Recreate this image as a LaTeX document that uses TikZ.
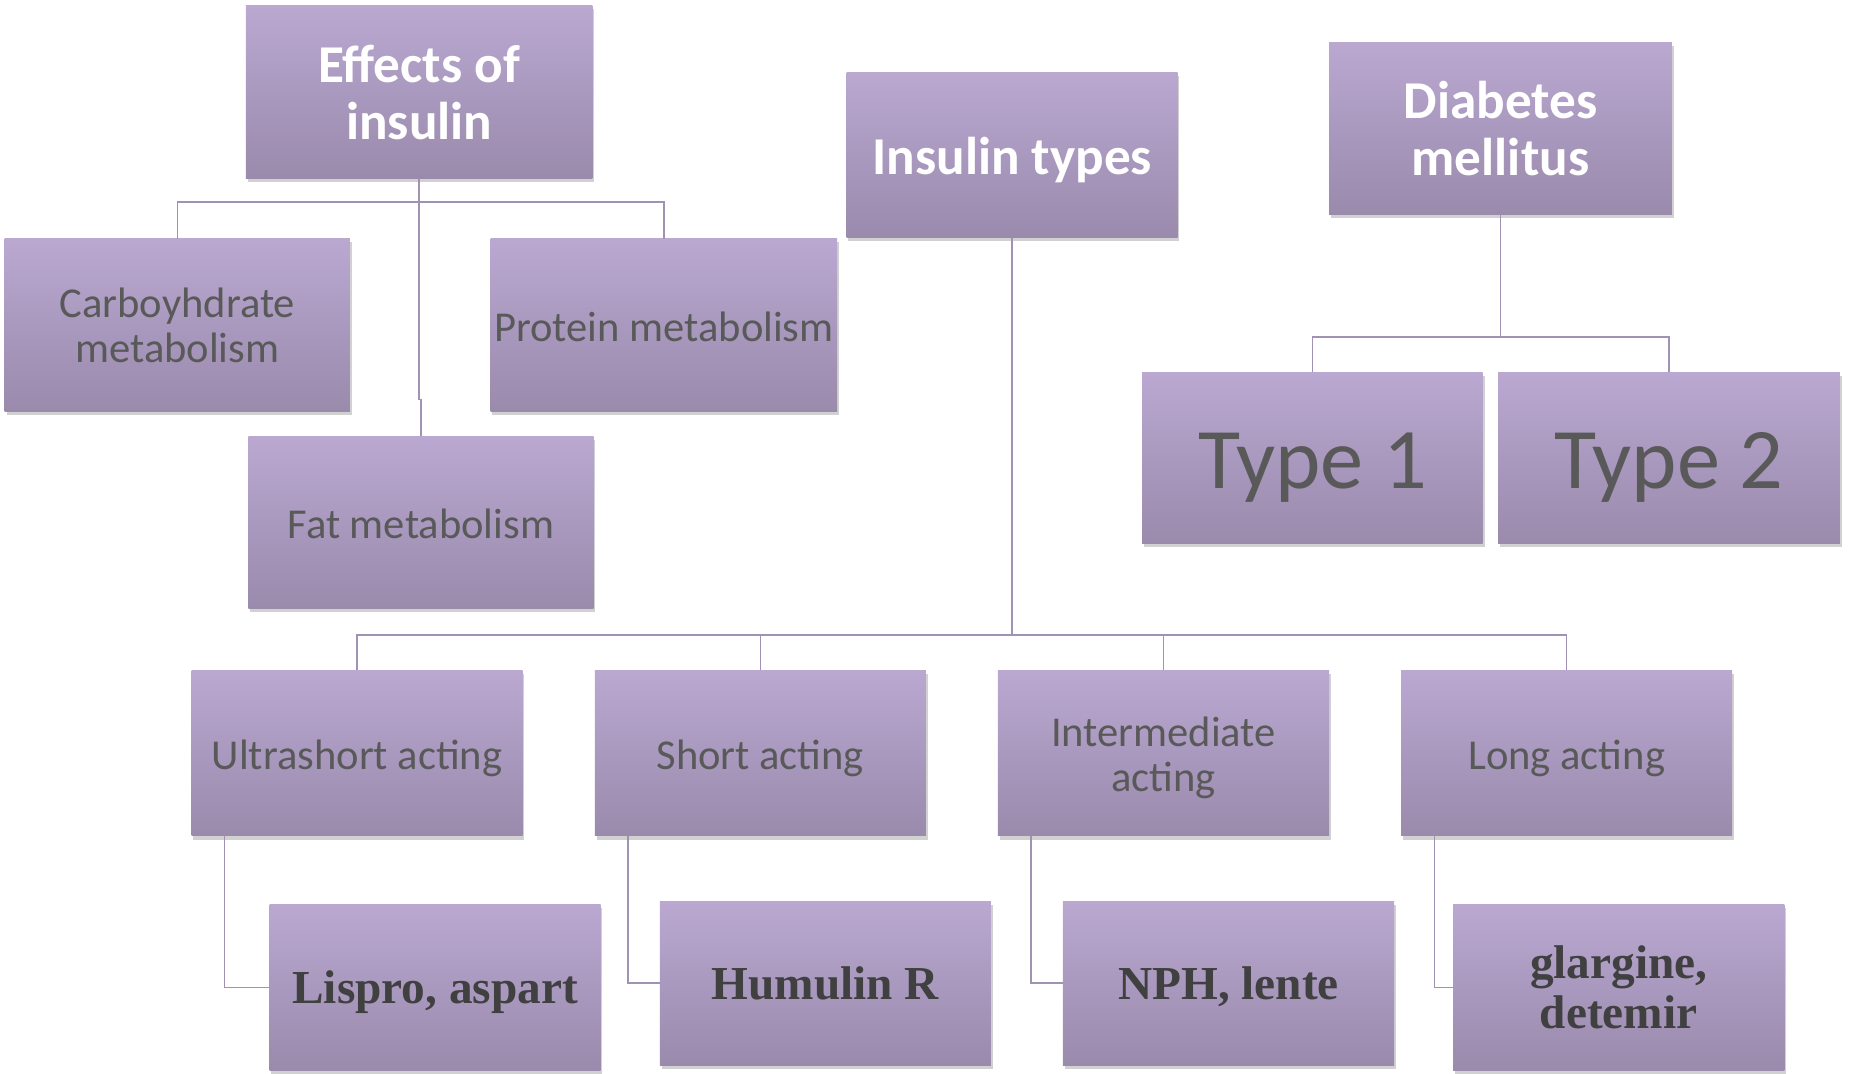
\documentclass[tikz,border=0pt]{standalone}
\usepackage{fontspec}
\setmainfont{Carlito}
\newfontfamily\tnr{Liberation Serif}
\usetikzlibrary{shadows}
\definecolor{boxtop}{HTML}{BAA8D1}
\definecolor{boxbot}{HTML}{9A8AAC}
\definecolor{linec}{HTML}{9F92B3}
\definecolor{midtxt}{HTML}{595959}
\definecolor{bottxt}{HTML}{404040}
\tikzset{
  box/.style={rectangle, inner sep=2pt, align=center, top color=boxtop, bottom color=boxbot,
    drop shadow={shadow xshift=1.5pt, shadow yshift=-3pt, opacity=0.3, fill=black!60}},
  headfont/.style={text=white, font=\fontsize{45}{48}\selectfont\bfseries},
  midfont/.style={text=midtxt, font=\fontsize{36}{38}\selectfont},
  headbox/.style={box, headfont},
  midbox/.style={box, midfont},
  midone/.style={midbox, text height=27pt, text depth=0pt},
  bigbox/.style={box, text=midtxt, font=\fontsize{73}{80}\selectfont, text height=51pt, text depth=0pt},
  drugbox/.style={box, text=bottxt, font=\fontsize{40}{42}\selectfont\tnr\bfseries},
  drugone/.style={drugbox, text height=27pt, text depth=0pt},
  conn/.style={draw=linec, line width=1.3pt}
}
\begin{document}
\begin{tikzpicture}[x=1pt,y=-1pt]
\useasboundingbox (0,0) rectangle (1568,908);
% Effects of insulin tree
\node[headbox, minimum width=293pt, minimum height=146pt] (eff) at (354.5,78) {Effects of\\insulin};
\node[midbox, minimum width=292pt, minimum height=146pt] (carb) at (150,275) {Carboyhdrate\\metabolism};
\node[midone, minimum width=293pt, minimum height=146pt] (prot) at (561.5,275) {Protein metabolism};
\node[midone, minimum width=292pt, minimum height=146pt] (fat) at (356,442) {Fat metabolism};
% Insulin types tree
\node[headbox, text height=33pt, text depth=0pt, minimum width=280pt, minimum height=140pt] (ins) at (856,131) {Insulin types};
\node[midone, minimum width=280pt, minimum height=140pt] (ultra) at (302,637) {Ultrashort acting};
\node[midone, minimum width=280pt, minimum height=140pt] (short) at (643,637) {Short acting};
\node[box, minimum width=280pt, minimum height=140pt,
  label={[midfont, align=center, yshift=-4pt]center:{Intermediate\\acting}}] (inter) at (984,637) {};
\node[midone, minimum width=280pt, minimum height=140pt] (long) at (1325,637) {Long acting};
\node[drugone, minimum width=280pt, minimum height=140pt] (lispro) at (368,835) {Lispro, aspart};
\node[drugone, minimum width=280pt, minimum height=139pt] (hum) at (698,831.5) {Humulin R};
\node[drugone, minimum width=280pt, minimum height=139pt] (nph) at (1039,831.5) {NPH, lente};
\node[drugbox, minimum width=280pt, minimum height=140pt] (glar) at (1369,835) {glargine,\\detemir};
% Diabetes tree
\node[headbox, minimum width=290pt, minimum height=145pt] (diab) at (1269,108.5) {Diabetes\\mellitus};
\node[bigbox, minimum width=288pt, minimum height=145pt] (t1) at (1110,387.5) {Type 1};
\node[bigbox, minimum width=289pt, minimum height=145pt] (t2) at (1411.5,387.5) {Type 2};
% connectors: effects
\coordinate (effbar) at (354.5,171);
\coordinate (jog) at (355,338);
\draw[conn] (eff.south) -- (effbar) -| (carb.north);
\draw[conn] (effbar) -| (prot.north);
\draw[conn] (effbar) -- (eff.south |- jog) -- (fat.north |- jog) -- (fat.north);
% connectors: insulin types
\coordinate (insbar) at (856,537);
\draw[conn] (ins.south) -- (insbar);
\draw[conn] (insbar) -| (ultra.north);
\draw[conn] (insbar) -| (short.north);
\draw[conn] (insbar) -| (inter.north);
\draw[conn] (insbar) -| (long.north);
\draw[conn] ([xshift=-112pt]ultra.south) |- (lispro.west);
\draw[conn] ([xshift=-112pt]short.south) |- (hum.west);
\draw[conn] ([xshift=-112pt]inter.south) |- (nph.west);
\draw[conn] ([xshift=-112pt]long.south) |- (glar.west);
% connectors: diabetes
\coordinate (diabar) at (1269,285);
\draw[conn] (diab.south) -- (diabar) -| (t1.north);
\draw[conn] (diabar) -| (t2.north);
\end{tikzpicture}
\end{document}
